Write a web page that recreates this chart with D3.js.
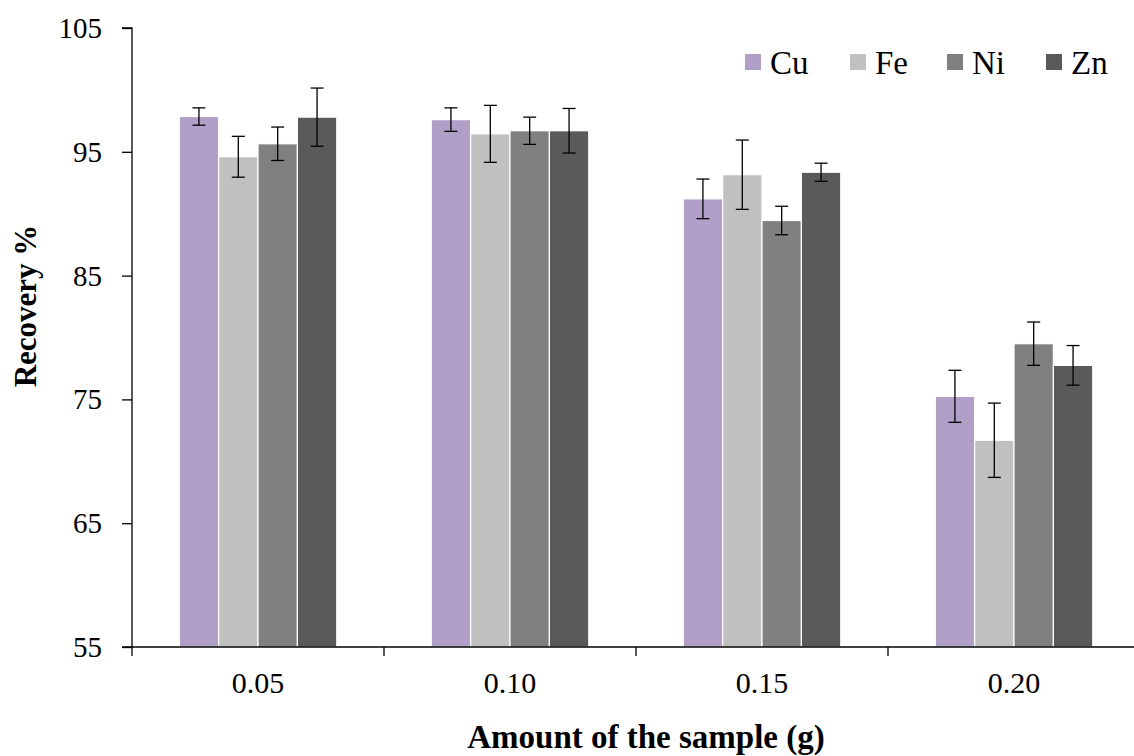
<!DOCTYPE html>
<html>
<head>
<meta charset="utf-8">
<script src="https://cdn.jsdelivr.net/npm/d3@7/dist/d3.min.js"></script>
<style>
html,body{margin:0;padding:0;background:#fff;}
svg{display:block;}
text{font-family:"Liberation Serif","Times New Roman",serif;fill:#000;}
</style>
</head>
<body>
<svg id="chart" width="1134" height="756"></svg>
<script>
const categories = ["0.05", "0.10", "0.15", "0.20"];
const seriesNames = ["Cu", "Fe", "Ni", "Zn"];
const seriesColors = ["#b0a0c8", "#c0c0c0", "#808080", "#5a5a5a"];
const cuValues = [97.85, 97.6, 91.2, 75.25];
const feValues = [94.6, 96.45, 93.15, 71.7];
const niValues = [95.65, 96.7, 89.45, 79.5];
const znValues = [97.8, 96.7, 93.35, 77.75];
const cuErrors = [0.7, 0.95, 1.6, 2.1];
const feErrors = [1.65, 2.3, 2.8, 3.0];
const niErrors = [1.35, 1.1, 1.15, 1.75];
const znErrors = [2.35, 1.8, 0.73, 1.6];
const yTicks = [55, 65, 75, 85, 95, 105];

const values = [cuValues, feValues, niValues, znValues];
const errors = [cuErrors, feErrors, niErrors, znErrors];

const svg = d3.select("#chart");
const mLeft = 132, mRight = 1140, mTop = 28, mBottom = 647;

const x = d3.scaleBand().domain(categories).range([mLeft, mRight]).paddingInner(0).paddingOuter(0);
const x1 = d3.scaleBand().domain(seriesNames).range([0, x.bandwidth()]).paddingInner(0).paddingOuter(1.2);
const y = d3.scaleLinear().domain([55, 105]).range([mBottom, mTop]);

const data = [];
categories.forEach((c, i) => {
  seriesNames.forEach((s, j) => {
    data.push({cat: c, ser: s, v: values[j][i], e: errors[j][i], color: seriesColors[j]});
  });
});

const g = svg.append("g");
g.selectAll("rect.bar").data(data).enter().append("rect")
  .attr("class", "bar")
  .attr("x", d => x(d.cat) + x1(d.ser))
  .attr("y", d => y(d.v))
  .attr("width", x1.bandwidth())
  .attr("height", d => y(55) - y(d.v))
  .attr("fill", d => d.color)
  .attr("stroke", "#ffffff")
  .attr("stroke-width", 1.2);

const eb = g.selectAll("g.err").data(data).enter().append("g").attr("class", "err");
const cx = d => x(d.cat) + x1(d.ser) + x1.bandwidth() / 2;
eb.append("line").attr("x1", cx).attr("x2", cx)
  .attr("y1", d => y(d.v + d.e)).attr("y2", d => y(d.v - d.e))
  .attr("stroke", "#000").attr("stroke-width", 1.3);
eb.append("line").attr("x1", d => cx(d) - 6.5).attr("x2", d => cx(d) + 6.5)
  .attr("y1", d => y(d.v + d.e)).attr("y2", d => y(d.v + d.e))
  .attr("stroke", "#000").attr("stroke-width", 1.3);
eb.append("line").attr("x1", d => cx(d) - 6.5).attr("x2", d => cx(d) + 6.5)
  .attr("y1", d => y(d.v - d.e)).attr("y2", d => y(d.v - d.e))
  .attr("stroke", "#000").attr("stroke-width", 1.3);

const yAxis = d3.axisLeft(y).tickValues(yTicks).tickSize(10).tickPadding(20).tickFormat(d3.format("d"));
const yg = svg.append("g").attr("transform", `translate(${mLeft},0)`).call(yAxis);
yg.select(".domain").attr("stroke", "#000").attr("stroke-width", 1.3).attr("d", `M-10,${mTop}H0V${mBottom}H-10`);
yg.selectAll(".tick line").attr("stroke", "#000").attr("stroke-width", 1.3);
yg.selectAll(".tick text").style("font-size", "29px").style("font-family", "Liberation Serif").attr("dy", "0.33em");

const xAxis = d3.axisBottom(x).tickSize(0).tickPadding(25);
const xg = svg.append("g").attr("transform", `translate(0,${mBottom})`).call(xAxis);
xg.select(".domain").attr("stroke", "#000").attr("stroke-width", 1.3).attr("d", `M${mLeft},0H${mRight}`);
xg.selectAll(".tick text").style("font-size", "30px").style("font-family", "Liberation Serif").attr("dy", "0.71em");
const boundaries = categories.map(c => x(c)).concat([x(categories[categories.length-1]) + x.bandwidth()]);
xg.selectAll("line.bnd").data(boundaries).enter().append("line").attr("class", "bnd")
  .attr("x1", d => d).attr("x2", d => d).attr("y1", 0).attr("y2", 9)
  .attr("stroke", "#000").attr("stroke-width", 1.3);

svg.append("text").attr("x", 646).attr("y", 748).attr("text-anchor", "middle")
  .style("font-size", "33px").style("font-weight", "bold").text("Amount of the sample (g)");
svg.append("text").attr("transform", "translate(36,306) rotate(-90)").attr("text-anchor", "middle")
  .style("font-size", "31px").style("font-weight", "bold").text("Recovery %");

const legX = [745, 850, 947, 1046];
const lg = svg.selectAll("g.leg").data(seriesNames).enter().append("g").attr("class", "leg")
  .attr("transform", (d, i) => `translate(${legX[i]},0)`);
lg.append("rect").attr("x", 0).attr("y", 54).attr("width", 16).attr("height", 16)
  .attr("fill", (d, i) => seriesColors[i]);
lg.append("text").attr("x", 25).attr("y", 74).style("font-size", "33px").text(d => d);
</script>
</body>
</html>
